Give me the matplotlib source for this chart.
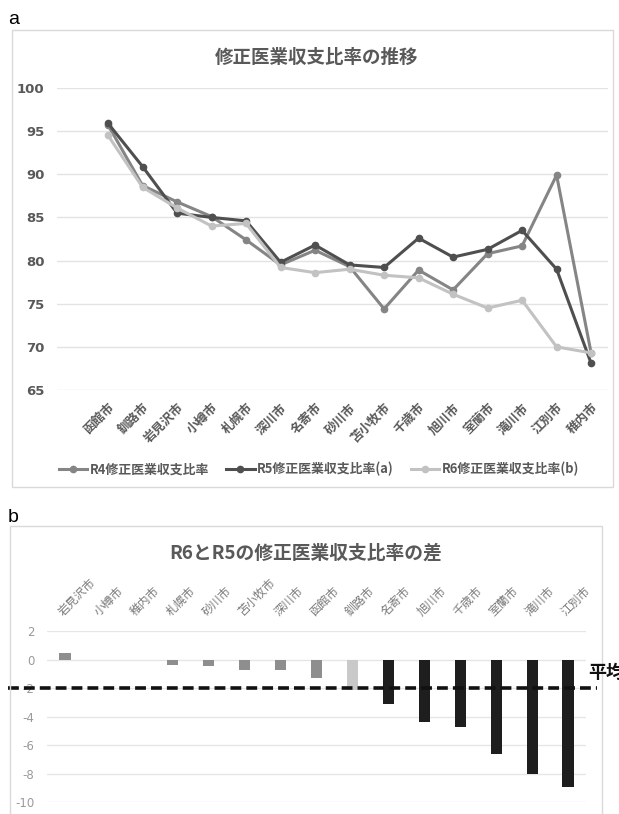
import matplotlib
matplotlib.use("Agg")
import matplotlib.pyplot as plt
from matplotlib.patches import Rectangle

plt.rcParams['font.family'] = ['Noto Sans CJK JP', 'DejaVu Sans']

# ---------------- data ----------------
title_a = "修正医業収支比率の推移"
cities_a = ['函館市', '釧路市', '岩見沢市', '小樽市', '札幌市', '深川市', '名寄市', '砂川市',
            '苫小牧市', '千歳市', '旭川市', '室蘭市', '滝川市', '江別市', '稚内市']
r4 = [95.7, 88.7, 86.8, 85.1, 82.4, 79.5, 81.2, 79.3, 74.4, 78.9, 76.6, 80.8, 81.7, 89.9, 69.3]
r5 = [95.9, 90.9, 85.5, 85.0, 84.6, 79.8, 81.8, 79.5, 79.2, 82.6, 80.4, 81.3, 83.5, 79.0, 68.1]
r6 = [94.5, 88.5, 86.1, 84.0, 84.3, 79.2, 78.6, 79.0, 78.3, 78.0, 76.1, 74.5, 75.4, 70.0, 69.3]
series_names = ['R4修正医業収支比率', 'R5修正医業収支比率(a)', 'R6修正医業収支比率(b)']
yticks_a = [65, 70, 75, 80, 85, 90, 95, 100]

title_b = "R6とR5の修正医業収支比率の差"
cities_b = ['岩見沢市', '小樽市', '稚内市', '札幌市', '砂川市', '苫小牧市', '深川市', '函館市',
            '釧路市', '名寄市', '旭川市', '千歳市', '室蘭市', '滝川市', '江別市']
diff = [0.45, 0.0, 0.0, -0.37, -0.47, -0.7, -0.75, -1.3, -2.15, -3.1, -4.35, -4.7, -6.6, -8.05, -8.9]
yticks_b = [2, 0, -2, -4, -6, -8, -10]
avg_diff = -2.0
avg_label = "平均"

# ---------------- layout helpers ----------------
W, H = 619, 814
fig = plt.figure(figsize=(W / 100, H / 100), dpi=100)


def rect(x0, y0, x1, y1):
    return [x0 / W, 1 - y1 / H, (x1 - x0) / W, (y1 - y0) / H]


# panel frames
fig.patches.append(Rectangle((12 / W, 1 - 487 / H), (613 - 12) / W, (487 - 30) / H,
                             transform=fig.transFigure, fill=False, edgecolor='#d9d9d9', lw=1))
fig.patches.append(Rectangle((10 / W, 1 - 840 / H), (602 - 10) / W, (840 - 526) / H,
                             transform=fig.transFigure, fill=False, edgecolor='#d9d9d9', lw=1))

fig.text(8 / W, 1 - 20 / H, 'a', fontsize=14, va='center', ha='left', family='Liberation Sans')
fig.text(8 / W, 1 - 517 / H, 'b', fontsize=14, va='center', ha='left', family='Liberation Sans')

# ---------------- panel a ----------------
axa = fig.add_axes(rect(57, 88, 608, 390))
x = list(range(len(cities_a)))
colors_a = ['#858585', '#4f4f4f', '#c2c2c2']
for vals, c, name in zip([r4, r5, r6], colors_a, series_names):
    axa.plot(x, vals, color=c, lw=2.2, marker='o', ms=4.5, label=name)
axa.set_ylim(65, 100)
axa.set_xlim(-1.48, 14.49)
axa.set_yticks(yticks_a)
axa.set_yticklabels([str(v) for v in yticks_a], fontsize=9.5, fontweight='bold',
                    color='#595959', family='DejaVu Sans')
axa.set_xticks(x)
axa.set_xticklabels(cities_a, rotation=45, ha='right', rotation_mode='anchor',
                    fontsize=9, fontweight='bold', color='#595959')
axa.tick_params(axis='both', length=0)
axa.tick_params(axis='y', pad=9)
axa.tick_params(axis='x', pad=8)
axa.grid(axis='y', color='#e3e3e3', lw=1)
axa.set_axisbelow(True)
for s in axa.spines.values():
    s.set_visible(False)
fig.text(317 / W, 1 - 57 / H, title_a, fontsize=13.3, fontweight='bold', color='#595959',
         ha='center', va='center')
fig.legend(loc='center', bbox_to_anchor=(319 / W, 1 - 469 / H), ncol=3, frameon=False,
           labelcolor='#595959', handlelength=2.2, columnspacing=1.3,
           handletextpad=0.2, prop={'weight': 'bold', 'size': 9.3})

# ---------------- panel b ----------------
axb = fig.add_axes(rect(47, 631, 586, 802.3))
xb = list(range(len(cities_b)))
bar_colors = ['#8e8e8e'] * 8 + ['#c9c9c9'] + ['#1e1e1e'] * 6
axb.bar(xb, diff, width=0.31, color=bar_colors, zorder=3)
axb.set_ylim(-10, 2)
axb.set_xlim(-0.5, 14.5)
axb.set_yticks(yticks_b)
axb.set_yticklabels([str(v) for v in yticks_b], fontsize=8.5, color='#9a9a9a',
                    family='DejaVu Sans')
axb.xaxis.tick_top()
axb.set_xticks(xb)
axb.set_xticklabels(cities_b, rotation=45, ha='left', va='bottom', rotation_mode='anchor',
                    fontsize=8.5, color='#7a7a7a')
axb.tick_params(axis='both', length=0)
axb.tick_params(axis='y', pad=9)
axb.tick_params(axis='x', pad=9)
axb.grid(axis='y', color='#e6e6e6', lw=1)
axb.set_axisbelow(True)
for s in axb.spines.values():
    s.set_visible(False)
axb.axhline(avg_diff, xmin=(8 - 47) / 539, xmax=(597 - 47) / 539, clip_on=False,
            color='#111111', lw=2.6, ls=(0, (3, 1.4)), zorder=4)
fig.text(306 / W, 1 - 553 / H, title_b, fontsize=13.5, fontweight='bold', color='#595959',
         ha='center', va='center')
fig.text(588 / W, 1 - 672 / H, avg_label, fontsize=13, fontweight='bold', color='#111111',
         ha='left', va='center')

fig.savefig('out.png', dpi=100)
